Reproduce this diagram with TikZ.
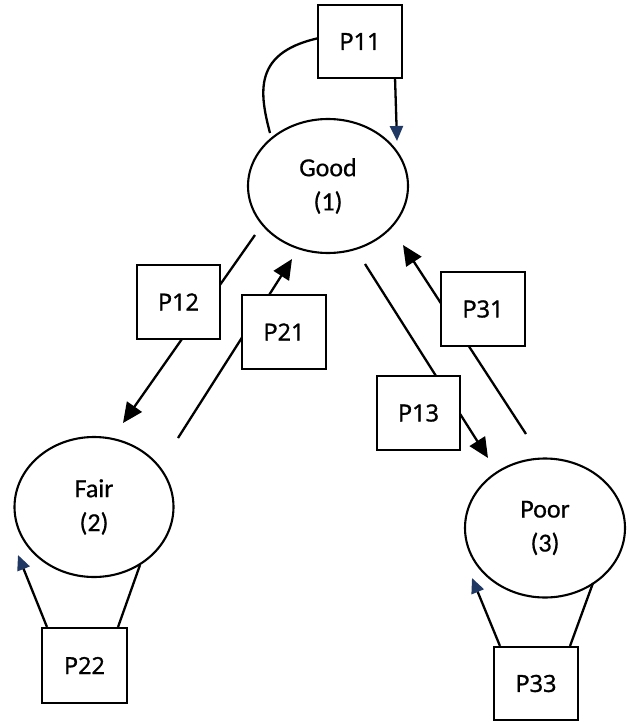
\documentclass[tikz,border=0pt]{standalone}
\usepackage{fontspec}
\setmainfont[FakeBold=0.6]{Carlito}
\newfontfamily\boxfont[FakeBold=1.4]{Open Sans}
\usetikzlibrary{arrows.meta,shapes.geometric,calc}
\definecolor{navy}{HTML}{1F3864}
\begin{document}
\begin{tikzpicture}[x=1pt,y=-1pt,
  state/.style={ellipse,draw,line width=2.1pt,fill=white,inner sep=0pt,align=center,font=\fontsize{26}{34}\selectfont},
  prob/.style={rectangle,draw,line width=2.1pt,fill=white,inner sep=0pt,font=\boxfont\fontsize{23.5}{28}\selectfont},
  link/.style={line width=2.3pt},
  bigtip/.style={link,-{Triangle[length=20pt,width=18pt]}},
  smalltip/.style={link,-{Triangle[length=15pt,width=13pt,color=navy,fill=navy]}}
]
\useasboundingbox (0,0) rectangle (628,722);

% free ends of the connectors
\coordinate (g12) at (255,235);
\coordinate (f12) at (123,423);
\coordinate (f21) at (178,438);
\coordinate (g21) at (292,259);
\coordinate (g13) at (365,264);
\coordinate (p13end) at (488,458);
\coordinate (p31start) at (526,434);
\coordinate (g31) at (403,245);
\coordinate (g11) at (270,133);
\coordinate (g11end) at (397,141);

% connectors (boxes are drawn on top)
\draw[bigtip] (g12) -- (f12);
\draw[bigtip] (f21) -- (g21);
\draw[bigtip] (g13) -- (p13end);
\draw[bigtip] (p31start) -- (g31);
\draw[link] (g11) .. controls (258,88) and (254,48) .. (330,36);

% ellipses
\node[state,minimum width=160pt,minimum height=134pt] (good) at (328,186) {Good\\(1)};
\node[state,minimum width=159pt,minimum height=140pt] (fair) at (94,507) {Fair\\(2)};
\node[state,minimum width=160pt,minimum height=139pt] (poor) at (545,528) {Poor\\(3)};

% boxes
\node[prob,minimum width=84pt,minimum height=73pt] (p11) at (360,41.5) {P11};
\node[prob,minimum width=83pt,minimum height=74pt] (p12) at (178.5,302) {P12};
\node[prob,minimum width=84pt,minimum height=74pt] (p21) at (284,332) {P21};
\node[prob,minimum width=83pt,minimum height=74pt] (p13) at (418.5,413) {P13};
\node[prob,minimum width=84pt,minimum height=74pt] (p31) at (483,309) {P31};
\node[prob,minimum width=85pt,minimum height=75pt] (p22) at (84.5,665.5) {P22};
\node[prob,minimum width=84pt,minimum height=73pt] (p33) at (536,683.5) {P33};

% self-loop arrows
\draw[smalltip] ($(p11.south east)+(-8,0)$) -- (g11end);
\draw[smalltip] ($(p22.north west)+(6,0)$) -- ($(fair.center)+(-76,48)$);
\draw[link] ($(p22.north east)+(-10,0)$) -- ($(fair.center)+(46,58)$);
\draw[smalltip] ($(p33.north west)+(7,0)$) -- ($(poor.center)+(-73,50)$);
\draw[link] ($(p33.north east)+(-9,0)$) -- ($(poor.center)+(48,55)$);
\end{tikzpicture}
\end{document}
